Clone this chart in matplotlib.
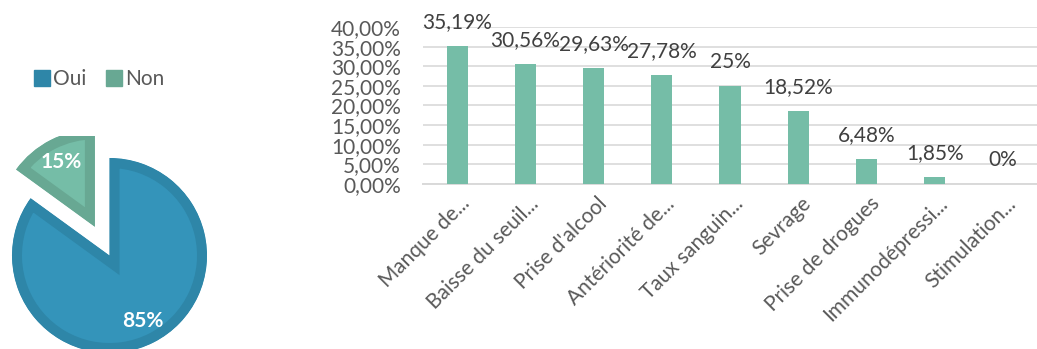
import matplotlib
matplotlib.use("Agg")
import matplotlib.pyplot as plt
import matplotlib.transforms as mtransforms
from matplotlib.lines import Line2D
from matplotlib.ticker import FuncFormatter, MultipleLocator

plt.rcParams['font.family'] = ['Lato', 'DejaVu Sans']

# pie data
pie_labels = ["Oui", "Non"]
pie_values = [85, 15]

# bar data
categories = ["Manque de...", "Baisse du seuil...", "Prise d'alcool", "Antériorité de...",
              "Taux sanguin...", "Sevrage", "Prise de drogues", "Immunodépressi...",
              "Stimulation..."]
percents = [35.19, 30.56, 29.63, 27.78, 25, 18.52, 6.48, 1.85, 0]

pie_face = ["#3494BA", "#75BDA7"]
pie_edge = ["#2E86A8", "#68A893"]
bar_color = "#75BDA7"
text_gray = "#595959"

W, H = 1037, 349
fig = plt.figure(figsize=(W / 100, H / 100), dpi=100)


def px_axes(left, top, width, height):
    # pixel box (from top-left) -> figure fraction
    return fig.add_axes([left / W, 1 - (top + height) / H, width / W, height / H])


# ---- pie ----
R = 97.5
cx, cy = 109.5, 255.5
half = 120
axp = px_axes(cx - half, cy - half, 2 * half, 2 * half)
wedges, _, autotexts = axp.pie(pie_values, colors=pie_face, startangle=90, counterclock=False,
                               explode=[0, 0.33], autopct='%1.0f%%', pctdistance=0.75,
                               textprops=dict(color='white', fontsize=15, fontweight='bold'))
for w, ec in zip(wedges, pie_edge):
    w.set_edgecolor(ec)
    w.set_linewidth(14.4)
    w.set_clip_on(True)
    w.set_clip_path(w)
lim = half / R
axp.set_xlim(-lim, lim)
axp.set_ylim(-lim, lim)
axp.set_aspect('equal')
axp.axis('off')

handles = [Line2D([], [], marker='s', linestyle='none', markersize=11,
                  markerfacecolor=c, markeredgecolor=c) for c in pie_edge]
fig.legend(handles, pie_labels, loc='center', bbox_to_anchor=(99 / W, 1 - 79 / H),
           ncol=2, frameon=False, fontsize=15, labelcolor=text_gray,
           handletextpad=0.15, columnspacing=0.9, handlelength=0.8)

# ---- bars ----
ax = px_axes(423, 27, 614, 157)
x = list(range(len(categories)))
bars = ax.bar(x, percents, width=0.31, color=bar_color, zorder=3)
ax.set_xlim(-0.5, len(categories) - 0.5)
ax.set_ylim(0, 40)
ax.yaxis.set_major_locator(MultipleLocator(5))
ax.yaxis.set_major_formatter(FuncFormatter(lambda v, p: f"{v:.2f}%".replace('.', ',')))
ax.grid(axis='y', color='#D9D9D9', linewidth=1.2, zorder=0)
for s in ['top', 'right', 'left']:
    ax.spines[s].set_visible(False)
ax.spines['bottom'].set_color('#D9D9D9')
ax.spines['bottom'].set_linewidth(1.4)
ax.tick_params(axis='y', length=0, pad=16, labelsize=15, labelcolor=text_gray)
ax.tick_params(axis='x', length=0, pad=12, labelsize=15, labelcolor=text_gray)
ax.set_xticks(x)
ax.set_xticklabels(categories, rotation=45, ha='right', va='center', rotation_mode='anchor')
shift = mtransforms.ScaledTranslation(10 / 100, 0, fig.dpi_scale_trans)
for lab in ax.get_xticklabels():
    lab.set_transform(lab.get_transform() + shift)


def fmt_pct(v):
    if float(v).is_integer():
        return f"{int(v)}%"
    return f"{v:.2f}%".replace('.', ',')


for b, v in zip(bars, percents):
    ax.annotate(fmt_pct(v), (b.get_x() + b.get_width() / 2, v), xytext=(0, 10),
                textcoords='offset points', ha='center', va='bottom',
                fontsize=15, color='#404040', annotation_clip=False)

fig.savefig("out.png", dpi=100)
